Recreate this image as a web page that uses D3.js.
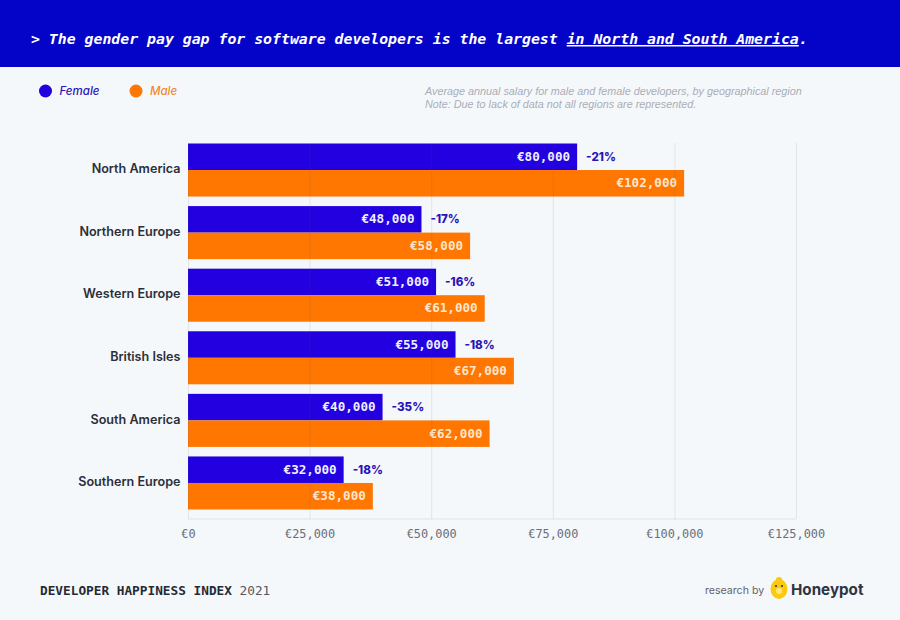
<!DOCTYPE html>
<html><head><meta charset="utf-8">
<script src="https://cdn.jsdelivr.net/npm/d3@7"></script>
<style>html,body{margin:0;padding:0;background:#f5f8fb}svg{display:block}</style>
</head><body><svg id="c" width="900" height="620"></svg>
<script>
const regions=["North America","Northern Europe","Western Europe","British Isles","South America","Southern Europe"];
const female=[80000,48000,51000,55000,40000,32000];
const male=[102000,58000,61000,67000,62000,38000];
const gap=["-21%","-17%","-16%","-18%","-35%","-18%"];
const ticks=[0,25000,50000,75000,100000,125000];
const seriesNames=["Female","Male"];
const seriesColors=["#2200e0","#ff7600"];
const seriesText=["#2a14b8","#f08a30"];
const mono="'DejaVu Sans Mono',monospace", sans="Inter,'Noto Sans',sans-serif";
const fmt=v=>"€"+d3.format(",")(v);
const svg=d3.select("#c");
svg.append("rect").attr("width",900).attr("height",620).attr("fill","#f5f8fb");
svg.append("rect").attr("width",900).attr("height",67).attr("fill","#0404c8");
const title=svg.append("text").attr("x",31).attr("y",44).attr("fill","#fff")
 .attr("font-family",mono).attr("font-style","italic").attr("font-weight",700).attr("font-size",14.84);
title.append("tspan").text("> The gender pay gap for software developers is the largest ");
title.append("tspan").attr("text-decoration","underline").text("in North and South America");
title.append("tspan").text(".");
// legend
const lx=d3.scaleOrdinal().domain(seriesNames).range([45.5,136]);
seriesNames.forEach((n,i)=>{
 svg.append("circle").attr("cx",lx(n)).attr("cy",91).attr("r",6.5).attr("fill",seriesColors[i]);
 svg.append("text").attr("x",lx(n)+14).attr("y",95).text(n).attr("fill",seriesText[i])
  .attr("font-family",sans).attr("font-style","italic").attr("font-weight",500).attr("font-size",11.5);
});
["Average annual salary for male and female developers, by geographical region","Note: Due to lack of data not all regions are represented."].forEach((t,i)=>{
 svg.append("text").attr("x",425).attr("y",94.5+i*13).text(t).attr("fill","#a9adb5")
  .attr("font-family","'Liberation Sans',sans-serif").attr("font-style","italic").attr("font-size",10.8);
});
const x=d3.scaleLinear().domain([0,125000]).range([188,796]);
const y=d3.scaleBand().domain(regions).range([143.5,509.5]).paddingInner(0.1525).paddingOuter(0);
const y2=d3.scaleBand().domain(seriesNames).range([0,y.bandwidth()]);
const g=svg.append("g");
regions.forEach((r,i)=>{
 const row=g.append("g").attr("transform",`translate(0,${y(r)})`);
 [female[i],male[i]].forEach((v,k)=>{
  row.append("rect").attr("x",x(0)).attr("y",y2(seriesNames[k])).attr("width",x(v)-x(0)).attr("height",y2.bandwidth()).attr("fill",seriesColors[k]);
  row.append("text").attr("x",x(v)-7).attr("y",y2(seriesNames[k])+y2.bandwidth()/2+4).attr("text-anchor","end")
   .text(fmt(v)).attr("fill",k?"#fde6cf":"#eef0ff").attr("font-family",mono).attr("font-weight",700).attr("font-size",12.6);
 });
 row.append("text").attr("x",x(female[i])+9).attr("y",y2.bandwidth()/2+4).text(gap[i])
  .attr("fill","#2a14b8").attr("font-family",sans).attr("font-weight",800).attr("font-size",11.6);
 row.append("text").attr("x",180.5).attr("y",y.bandwidth()/2+3.2).attr("text-anchor","end").text(r)
  .attr("fill","#2b2f3a").attr("font-family",sans).attr("font-weight",600).attr("font-size",12.6);
});
// grid and axis
const axis=svg.append("g").attr("transform","translate(0,519)")
 .call(d3.axisBottom(x).tickValues(ticks).tickFormat(fmt).tickSize(-376).tickPadding(10.5));
axis.select(".domain").attr("stroke","#e0e3ea").attr("d","M188,0H796");
axis.selectAll("line").attr("stroke","#5a6070").attr("stroke-opacity",0.13);
axis.selectAll("text").attr("fill","#6a6e78").attr("font-family",mono).attr("font-size",11.9);
// footer
const foot=svg.append("text").attr("x",40).attr("y",595).attr("font-family",mono).attr("font-size",12.75);
foot.append("tspan").attr("font-weight",700).attr("fill","#262a36").text("DEVELOPER HAPPINESS INDEX");
foot.append("tspan").attr("fill","#55585f").text(" 2021");
svg.append("text").attr("x",705).attr("y",593.5).text("research by").attr("fill","#5f636c").attr("font-family",sans).attr("font-size",10.6);
const logo=svg.append("g").attr("transform","translate(779,589)");
logo.append("ellipse").attr("rx",8.5).attr("ry",10).attr("fill","#fbc90e");
logo.append("ellipse").attr("cy",-10).attr("rx",3).attr("ry",2).attr("fill","#fbc90e");
[-3,3].forEach(d=>logo.append("circle").attr("cx",d).attr("cy",-3).attr("r",1).attr("fill","#2b2f3a"));
logo.append("circle").attr("cy",2).attr("r",3).attr("fill","#fde58a");
svg.append("text").attr("x",791).attr("y",595).text("Honeypot").attr("fill","#2f3442").attr("font-family",sans).attr("font-weight",700).attr("font-size",15.2);
</script></body></html>
